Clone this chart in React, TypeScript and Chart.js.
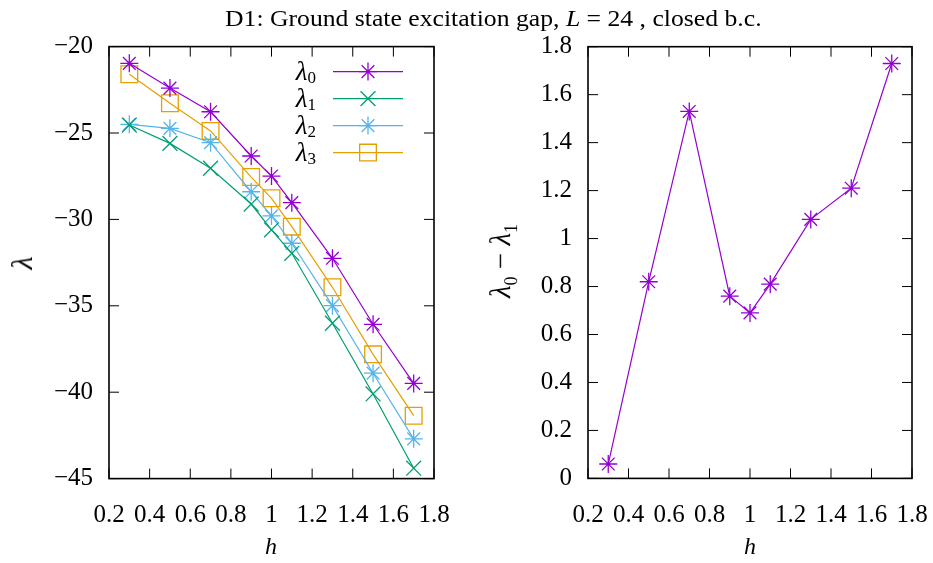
import React, { useEffect, useRef } from "react";
import { Chart, registerables } from "chart.js";

Chart.register(...registerables);

// ---- data ----
const hValues = [0.3, 0.5, 0.7, 0.9, 1.0, 1.1, 1.3, 1.5, 1.7];
const lambda0 = [-20.97, -22.4, -23.77, -26.33, -27.49, -29.03, -32.25, -36.07, -39.49];
const lambda1 = [-24.54, -25.6, -27.04, -29.11, -30.6, -31.96, -36.01, -40.1, -44.4];
const lambda2 = [-24.5, -24.73, -25.56, -28.4, -29.8, -31.38, -34.99, -38.9, -42.7];
const lambda3 = [-21.6, -23.28, -24.88, -27.55, -28.78, -30.42, -33.93, -37.81, -41.36];
const gapValues = [0.06, 0.82, 1.53, 0.76, 0.69, 0.81, 1.08, 1.21, 1.73];

const xTicks = [0.2, 0.4, 0.6, 0.8, 1, 1.2, 1.4, 1.6, 1.8];
const leftYTicks = [-45, -40, -35, -30, -25, -20];
const rightYTicks = [0, 0.2, 0.4, 0.6, 0.8, 1, 1.2, 1.4, 1.6, 1.8];

const seriesNames = ["λ0", "λ1", "λ2", "λ3"];
const COLORS = ["#9400d3", "#009e73", "#56b4e9", "#e69f00"];

const FONT = "'Liberation Serif', 'Times New Roman', serif";

const toPoints = (ys: number[]) => hValues.map((x, i) => ({ x, y: ys[i] }));

function drawMarker(ctx: CanvasRenderingContext2D, style: string, x: number, y: number, r: number) {
  ctx.beginPath();
  if (style === "star" || style === "cross") {
    ctx.moveTo(x, y - r);
    ctx.lineTo(x, y + r);
    ctx.moveTo(x - r, y);
    ctx.lineTo(x + r, y);
  }
  if (style === "star" || style === "crossRot") {
    const o = Math.cos(Math.PI / 4) * r;
    ctx.moveTo(x - o, y - o);
    ctx.lineTo(x + o, y + o);
    ctx.moveTo(x - o, y + o);
    ctx.lineTo(x + o, y - o);
  }
  if (style === "rect") {
    const s = Math.SQRT1_2 * r;
    ctx.rect(x - s, y - s, 2 * s, 2 * s);
  }
  ctx.stroke();
}

const framePlugin = {
  id: "frame",
  afterDatasetsDraw(chart: any, _args: any, opts: any) {
    const { ctx, chartArea: a, scales } = chart;
    ctx.save();
    ctx.strokeStyle = "#000";
    ctx.lineWidth = 1;
    const tl = 10;
    for (const v of opts.xTicks as number[]) {
      const px = scales.x.getPixelForValue(v);
      ctx.beginPath();
      ctx.moveTo(px, a.bottom);
      ctx.lineTo(px, a.bottom - tl);
      ctx.moveTo(px, a.top);
      ctx.lineTo(px, a.top + tl);
      ctx.stroke();
    }
    for (const v of opts.yTicks as number[]) {
      const py = scales.y.getPixelForValue(v);
      ctx.beginPath();
      ctx.moveTo(a.left, py);
      ctx.lineTo(a.left + tl, py);
      ctx.moveTo(a.right, py);
      ctx.lineTo(a.right - tl, py);
      ctx.stroke();
    }
    ctx.lineWidth = 1.6;
    ctx.strokeRect(a.left, a.top, a.right - a.left, a.bottom - a.top);
    ctx.restore();
  },
};

const legendPlugin = {
  id: "lambdaLegend",
  afterDatasetsDraw(chart: any, _args: any, opts: any) {
    if (!opts || !opts.enabled) return;
    const { ctx, chartArea: a } = chart;
    ctx.save();
    const x0 = a.right - 101;
    const x1 = a.right - 31;
    const xm = (x0 + x1) / 2;
    const textRight = x0 - 17;
    chart.data.datasets.forEach((ds: any, i: number) => {
      const y = a.top + 25 + i * 27;
      ctx.strokeStyle = ds.borderColor;
      ctx.lineWidth = ds.borderWidth;
      ctx.beginPath();
      ctx.moveTo(x0, y);
      ctx.lineTo(x1, y);
      ctx.stroke();
      ctx.lineWidth = ds.pointBorderWidth;
      drawMarker(ctx, ds.pointStyle, xm, y, ds.pointRadius);
      const label: string = ds.label;
      const main = label.slice(0, 1);
      const sub = label.slice(1);
      ctx.fillStyle = "#000";
      ctx.textBaseline = "alphabetic";
      ctx.textAlign = "left";
      ctx.font = `17px ${FONT}`;
      const subW = ctx.measureText(sub).width;
      ctx.fillText(sub, textRight - subW, y + 11);
      ctx.font = `italic 27px ${FONT}`;
      ctx.textAlign = "right";
      ctx.fillText(main, textRight - subW, y + 8);
    });
    ctx.restore();
  },
};

const fmt = (v: number) => String(Math.round(v * 1000) / 1000).replace("-", "\u2212");

function baseScales(yMin: number, yMax: number, yTicks: number[], yWidth: number, xHeight: number) {
  return {
    x: {
      type: "linear" as const,
      min: 0.2,
      max: 1.8,
      afterBuildTicks: (s: any) => {
        s.ticks = xTicks.map((v) => ({ value: v }));
      },
      afterFit: (s: any) => {
        s.height = xHeight;
        s.paddingLeft = 0;
        s.paddingRight = 0;
      },
      grid: { display: false, drawTicks: false },
      border: { display: false },
      ticks: {
        padding: 22,
        color: "#000",
        font: { family: FONT, size: 25 },
        maxRotation: 0,
        autoSkip: false,
        callback: (v: any) => fmt(Number(v)),
      },
    },
    y: {
      type: "linear" as const,
      min: yMin,
      max: yMax,
      afterBuildTicks: (s: any) => {
        s.ticks = yTicks.map((v) => ({ value: v }));
      },
      afterFit: (s: any) => {
        s.width = yWidth;
        s.paddingTop = 0;
        s.paddingBottom = 0;
      },
      grid: { display: false, drawTicks: false },
      border: { display: false },
      ticks: {
        padding: 16,
        color: "#000",
        font: { family: FONT, size: 25 },
        autoSkip: false,
        callback: (v: any) => fmt(Number(v)),
      },
    },
  };
}

function makeDataset(label: string, ys: number[], color: string, style: string, r: number) {
  return {
    label,
    data: toPoints(ys),
    borderColor: color,
    backgroundColor: "transparent",
    borderWidth: 1.2,
    pointStyle: style,
    pointRadius: r,
    pointHoverRadius: r,
    pointBorderColor: color,
    pointBackgroundColor: "transparent",
    pointBorderWidth: 1.3,
    showLine: true,
    tension: 0,
    clip: false as any,
  };
}

export default function App() {
  const leftRef = useRef<HTMLCanvasElement>(null);
  const rightRef = useRef<HTMLCanvasElement>(null);

  useEffect(() => {
    const left = new Chart(leftRef.current!, {
      type: "line",
      data: {
        datasets: [
          makeDataset(seriesNames[0], lambda0, COLORS[0], "star", 9),
          makeDataset(seriesNames[1], lambda1, COLORS[1], "crossRot", 10.5),
          makeDataset(seriesNames[2], lambda2, COLORS[2], "star", 9),
          makeDataset(seriesNames[3], lambda3, COLORS[3], "rect", 11.8),
        ] as any,
      },
      options: {
        animation: false,
        responsive: false,
        events: [],
        layout: { padding: { left: 0, right: 32, top: 46.6, bottom: 0 } },
        scales: baseScales(-45, -20, leftYTicks, 109, 84.4) as any,
        plugins: {
          legend: { display: false },
          tooltip: { enabled: false },
          frame: { xTicks, yTicks: leftYTicks },
          lambdaLegend: { enabled: true },
        } as any,
      },
      plugins: [framePlugin, legendPlugin],
    });

    const right = new Chart(rightRef.current!, {
      type: "line",
      data: {
        datasets: [makeDataset("λ0 − λ1", gapValues, COLORS[0], "star", 9)] as any,
      },
      options: {
        animation: false,
        responsive: false,
        events: [],
        layout: { padding: { left: 0, right: 21, top: 46.7, bottom: 0 } },
        scales: baseScales(0, 1.8, rightYTicks, 122, 84.6) as any,
        plugins: {
          legend: { display: false },
          tooltip: { enabled: false },
          frame: { xTicks, yTicks: rightYTicks },
          lambdaLegend: { enabled: false },
        } as any,
      },
      plugins: [framePlugin, legendPlugin],
    });

    return () => {
      left.destroy();
      right.destroy();
    };
  }, []);

  const abs: React.CSSProperties = { position: "absolute" };
  const labelStyle: React.CSSProperties = {
    position: "absolute",
    fontFamily: FONT,
    color: "#000",
    whiteSpace: "nowrap",
    lineHeight: 1,
  };

  return (
    <div style={{ position: "fixed", left: 0, top: 0, width: 933, height: 563, background: "#fff", overflow: "hidden" }}>
      <canvas ref={leftRef} width={466} height={563} style={{ ...abs, left: 0, top: 0 }} />
      <canvas ref={rightRef} width={467} height={563} style={{ ...abs, left: 466, top: 0 }} />
      <div
        style={{
          ...labelStyle,
          left: 225,
          top: 6,
          fontSize: 24,
          transformOrigin: "0 0",
          transform: "scaleX(1.07)",
        }}
      >
        D1: Ground state excitation gap, <i>L</i> = 24 , closed b.c.
      </div>
      <div style={{ ...labelStyle, left: 22, top: 263, fontSize: 30, fontStyle: "italic", transform: "translate(-50%, -50%) rotate(-90deg)" }}>
        λ
      </div>
      <div style={{ ...labelStyle, left: 503, top: 261, fontSize: 29, transform: "translate(-50%, -50%) rotate(-90deg)" }}>
        <i>λ</i>
        <sub style={{ fontSize: 18 }}>0</sub> − <i>λ</i>
        <sub style={{ fontSize: 18 }}>1</sub>
      </div>
      <div style={{ ...labelStyle, left: 271, top: 546, fontSize: 24, fontStyle: "italic", transform: "translate(-50%, -50%)" }}>
        h
      </div>
      <div style={{ ...labelStyle, left: 750, top: 546, fontSize: 24, fontStyle: "italic", transform: "translate(-50%, -50%)" }}>
        h
      </div>
    </div>
  );
}
